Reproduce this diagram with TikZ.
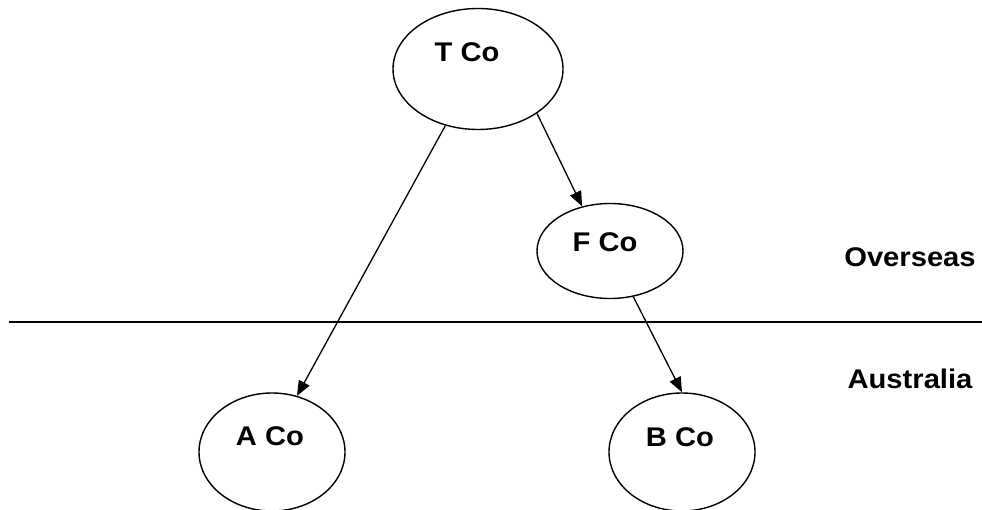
\documentclass[tikz,border=0pt]{standalone}
\usepackage{fontspec}
\setmainfont{Liberation Sans}[FakeStretch=1.08]
\usetikzlibrary{shapes.geometric,arrows.meta}
\begin{document}
\begin{tikzpicture}[x=1pt,y=1pt,
  co/.style={draw, ellipse, line width=1.4pt, inner sep=0pt},
  lbl/.style={font=\fontsize{27}{32}\selectfont\bfseries},
  arr/.style={line width=1.3pt, -{Triangle[length=15pt,width=12pt]}}]
\useasboundingbox (0,0) rectangle (982,-510);
\node[co, minimum width=170pt, minimum height=121pt,
  label={[lbl, xshift=-11pt, yshift=17pt]center:T Co}] (T) at (478,-69) {};
\node[co, minimum width=146pt, minimum height=95pt,
  label={[lbl, xshift=-5pt, yshift=9pt]center:F Co}] (F) at (610,-251) {};
\node[co, minimum width=146pt, minimum height=118pt,
  label={[lbl, xshift=-2pt, yshift=16pt]center:A Co}] (A) at (272,-452) {};
\node[co, minimum width=146pt, minimum height=118pt,
  label={[lbl, xshift=-2pt, yshift=15pt]center:B Co}] (B) at (682,-452) {};
\node[lbl] (ov) at (910,-257) {Overseas};
\node[lbl] (au) at (910,-379) {Australia};
\coordinate (l1) at (9,-322);
\coordinate (l2) at (982,-322);
\draw[line width=1.4pt] (l1) -- (l2);
\draw[arr] (T.240) -- (A.66);
\draw[arr] (T.323) -- (F.122);
\draw[arr] (F.297) -- (B.90);
\end{tikzpicture}
\end{document}
